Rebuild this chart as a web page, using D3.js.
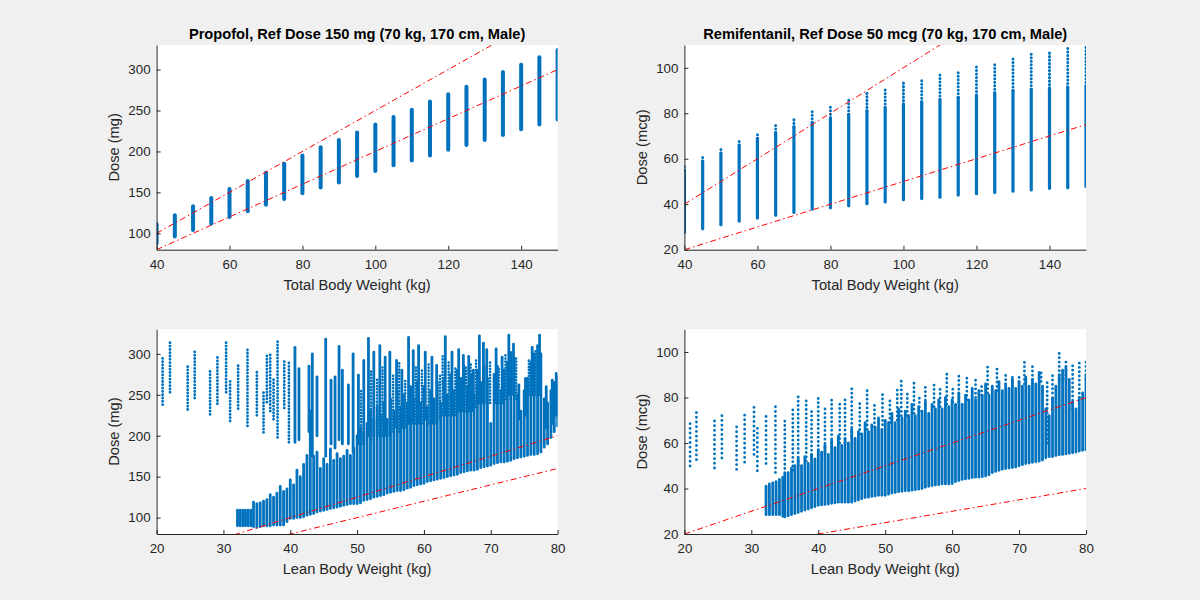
<!DOCTYPE html>
<html>
<head>
<meta charset="utf-8">
<script src="https://cdn.jsdelivr.net/npm/d3@7"></script>
<style>
  html, body { margin: 0; padding: 0; background: #f0f0f0; }
  svg { display: block; }
</style>
</head>
<body>
<svg id="chart" width="1200" height="600"></svg>
<script>
// ---------------- DATA ----------------
// Top row: total body weight grid and dose range at each weight
const tbw = [40,45,50,55,60,65,70,75,80,85,90,95,100,105,110,115,120,125,130,135,140,145,150];
const propTbwMin = [88,96,104,112,120,127,135,142,149,156,162,170,176,183,189,195,202,208,214,220,227,233,239];
const propTbwMax = [111,122,133,143,154,164,174,185,195,205,214,223,233,242,251,261,270,279,288,297,306,315,324];
const remiTbwMin = [27.6,29.2,31,32.6,33.9,35.2,36.4,37.8,38.4,39.3,40.2,41,42,42.5,43.1,44,44.6,45.2,45.7,46.3,47,47.2,47.8];
const remiTbwSolidMax = [55,59,62.5,66,69,71.5,74,76,78,79.5,81,82.5,84,85,86,87,88,89,90,90.5,91,91.5,92];
const remiTbwMax = [56.6,61,64.9,68.6,71.9,75,78,81.1,83.6,86.3,89,91,93.3,95.2,97.2,99.1,101,102.8,104.2,106,107.5,109,110.4];

// Reference dose lines: [x, dose] end points
const propTbwRefHigh = [[40,100],[150,375]];
const propTbwRefLow  = [[40,80],[150,300]];
const remiTbwRefHigh = [[40,40],[150,150]];
const remiTbwRefLow  = [[40,20],[150,75]];
const propLbwRefHigh = [[20,50],[80,200]];
const propLbwRefLow  = [[20,40],[80,160]];
const remiLbwRefHigh = [[20,20],[80,80]];
const remiLbwRefLow  = [[20,10],[80,40]];

// Bottom-left (Propofol vs LBW) columns: [lbw, lowDose, highDose]
const propLbwSparse = [
  [20.9,238,296],[22.0,253,314],[24.65,232,287],[25.7,246,305],[28.0,226,279],[29.1,239,297],
  [30.4,253,315],[31.0,218,270],[32.2,233,289],[33.6,212,306],[35.0,225,280],[36.0,204,253],
  [36.5,241,298],[37.0,230,300],[37.5,220,272],[38.1,198,316],[39.1,234,292],[39.8,192,290]
];
const propLbwBand = [
  [32.1,90,109],[32.5,90,109],[32.9,90,109],[33.3,90,109],[33.7,90,109],[34.1,90,109],
  [34.5,89,119],[35,88,117],[35.5,89,118],[36,90,120],[36.5,90,122],[37,90,128],[37.5,91,125],
  [38,91,130],[38.5,91,138],[39,91,132],[39.5,95,135],[40,99,146],[40.5,99,140],[41,100,158],
  [41.5,100,150],[42,101,165],[42.5,103,176],[43,104,230],[43.5,105,175],[44,107,180],[44.5,108,160],
  [45,109,172],[45.5,110,165],[46,111,184],[46.5,112,170],[47,113,178],[47.5,114,172],[48,115,175],
  [48.5,116,182],[49,117,176],[49.5,117,185],[50,117,200],[50.5,118,210],[51,121,205],[51.5,122,215],
  [52,123,230],[52.5,125,220],[53,126,235],[53.5,127,225],[54,128,240],[54.5,130,220],[55,131,245],
  [55.5,132,230],[56,133,255],[56.5,133,235],[57,134,250],[57.5,136,240],[58,137,260],[58.5,139,245],
  [59,140,265],[59.5,141,240],[60,142,260],[60.5,144,235],[61,145,255],[61.5,146,245],[62,147,265],
  [62.5,148,240],[63,149,270],[63.5,150,250],[64,151,275],[64.5,152,255],[65,153,280],[65.5,155,270],
  [66,156,285],[66.5,157,260],[67,158,275],[67.5,158,250],[68,159,280],[68.5,161,265],[69,162,285],
  [69.5,163,270],[70,164,215],[70.5,166,275],[71,167,285],[71.5,168,255],[72,168,280],[72.5,169,290],
  [73,170,300],[73.5,172,295],[74,173,250],[74.5,174,230],[75,175,255],[75.5,176,270],[76,177,290],
  [76.5,177,300],[77,178,310],[77.5,180,300],[78,186,245],[78.5,190,240],[79,198,255],[79.5,205,265],
  [80,212,272]
];
const propLbwSpikes = [
  [40.7,192,308],[41.3,195,282],[42.8,205,285],[43.3,175,300],[44.0,200,272],[45.3,175,318],
  [46.1,190,268],[46.7,185,272],[47.3,195,309],[47.8,190,280],[48.7,190,262],[49.4,180,300],
  [50.2,190,274],[51.0,190,292],[51.7,200,319],[52.5,200,302],[53.4,200,310],[54.2,200,296],
  [54.9,200,302],[55.9,210,292],[56.7,210,280],[57.7,215,320],[58.4,215,304],[59.2,215,310],
  [60.2,220,302],[61.2,215,296],[61.9,215,286],[63.2,225,321],[64.2,225,302],[65.2,230,305],
  [65.9,230,298],[66.7,230,297],[67.4,230,280],[68.3,240,322],[68.9,240,313],[69.4,240,305],
  [70.8,240,306],[71.7,240,296],[72.7,250,323],[73.4,250,312],[74.2,220,262],[75.2,225,270],
  [76.2,250,308],[77.3,250,323],[78.3,210,260],[79.2,215,268],[79.8,225,276]
];
const propLbwSpikesMid = [
  [50.6,190,255],[52.1,195,280],[53.0,200,270],[53.8,200,285],[55.4,205,275],[56.3,205,290],
  [57.2,210,270],[58.8,215,285],[59.7,215,280],[60.7,215,290],[62.4,220,275],[62.8,225,300],
  [63.7,225,290],[64.7,225,285],[66.3,230,285],[67.0,230,290],[67.8,235,295],[69.9,240,290],
  [71.2,240,285],[72.2,245,300],[73.0,245,305],[73.8,245,295],[75.7,250,295],[76.7,250,305]
];

// Bottom-right (Remifentanil vs LBW) columns: [lbw, lowDose, highDose]
const remiLbwSparse = [
  [20.85,49.9,70.4],[21.8,52.7,74.7],[24.5,49,69.7],[25.6,53.4,73.6],[27.8,48.4,68.8],
  [29.0,51.6,72.6],[30.4,55,76.8],[30.9,47.8,67.8],[32.2,51,71.9],[33.6,47,76.1]
];
const remiLbwBand = [
  [32.2,28.5,41],[32.7,28.5,42],[33.2,28.5,42.5],[33.7,28.5,43],[34.2,28.5,44],[34.7,27.8,45],
  [35,27.5,46.5],[35.5,28,47],[36,28.5,49],[36.5,29,50],[37,29.5,53],[37.5,30,50],[38,30.5,54],
  [38.5,31,51],[39,31.5,55],[39.5,32,53],[40,32.6,57],[40.5,32.8,56],[41,33,59],[41.5,33.2,55],
  [42,33.5,61],[42.5,33.7,58],[43,34,63],[43.5,34,59],[44,34,62],[44.5,34,60],[45,34,66],
  [45.5,34.5,62],[46,35,65],[46.5,35.5,64],[47,36,69],[47.5,36.2,65],[48,36.5,68],[48.5,36.7,67],
  [49,37,71],[49.5,37,66],[50,37,70],[50.5,37.5,69],[51,38,73],[51.5,38.3,69],[52,38.6,75],
  [52.5,38.8,71],[53,39,74],[53.5,39,72],[54,39.2,77],[54.5,39.5,72],[55,39.7,76],[55.5,40,74],
  [56,40.5,78],[56.5,41,73],[57,41.3,77],[57.5,41.5,75],[58,41.7,79],[58.5,42,75],[59,42,80],
  [59.5,42,76],[60,42.2,79],[60.5,43,77],[61,43.5,82],[61.5,44,77],[62,44.2,81],[62.5,44.5,79],
  [63,44.8,84],[63.5,45,79],[64,45,83],[64.5,45.2,81],[65,45.5,86],[65.5,46,81],[66,47,85],
  [66.5,47.5,83],[67,48,87],[67.5,48.5,83],[68,48.8,86],[68.5,49,84],[69,49.2,88],[69.5,49.5,84],
  [70,50,87],[70.5,50.5,85],[71,51,89],[71.5,51.2,85],[72,51.5,88],[72.5,51.8,86],[73,52,91],
  [73.5,52.5,85],[74,53.5,75],[74.5,54,72],[75,54,80],[75.5,54.5,85],[76,54.8,90],[76.5,55,92],
  [77,55.2,93],[77.5,55.5,88],[78,55.7,78],[78.5,56,75],[79,56.5,80],[79.5,56.8,82],[80,57,90]
];
const remiLbwSpikes = [
  [35.0,45,71.4],[36.2,48,75],[37.0,50,81.7],[38.2,52,79.5],[39.0,53,74],[40.0,55,81],[41.0,56,76],
  [42.0,58,78.8],[43.2,60,77.6],[44.0,60,80],[45.0,63,85],[46.2,64,79],[47.3,66,84],[48.4,67,78],
  [49.6,68,83],[50.7,69,80],[51.8,70,84.6],[52.4,72,87.8],[53.3,72,82],[54.3,73,86.8],[55.1,74,81],
  [56.0,75,86],[57.3,76,86.8],[58.2,76,84],[59.2,77,90.9],[60.1,78,85],[61.0,78,90],[62.2,79,89],
  [63.5,80,88.6],[64.4,81,86],[65.3,82,93.8],[66.7,83,92.7],[68.0,84,91],[69.0,85,89],[70.0,85,89.7],
  [70.8,86,96.6],[72.0,86,94.9],[73.3,87,92],[74.2,60,88],[75.0,82,90.5],[76.0,88,99.7],[77.0,88,95.6],
  [78.0,75,94],[79.0,80,95.6],[80.0,88,97.4]
];

// Axis ticks and text
const tbwTicks = [40,60,80,100,120,140];
const lbwTicks = [20,30,40,50,60,70,80];
const propTicks = [100,150,200,250,300];
const remiTicks = [20,40,60,80,100];
const titles = ["Propofol, Ref Dose 150 mg (70 kg, 170 cm, Male)", "Remifentanil, Ref Dose 50 mcg (70 kg, 170 cm, Male)"];
const xLabels = ["Total Body Weight (kg)", "Lean Body Weight (kg)"];
const yLabels = ["Dose (mg)", "Dose (mcg)"];

// ---------------- DRAWING ----------------
const svg = d3.select("#chart");
const FONT = "'Liberation Sans', Arial, Helvetica, sans-serif";
const BLUE = "#0072BD";
const AXC = "#262626";

const colsLeft = [156.6, 557.6], colsRight = [684.4, 1086];
const rowTop = [45, 249.7], rowBottom = [329.3, 534];

function panel(cfg, idx) {
  const [x0, x1] = cfg.cols, [y0, y1] = cfg.rows;
  const x = d3.scaleLinear().domain(cfg.xDomain).range([x0, x1]);
  const y = d3.scaleLinear().domain(cfg.yDomain).range([y1, y0]);
  const g = svg.append("g");
  g.append("rect").attr("x", x0).attr("y", y0).attr("width", x1 - x0).attr("height", y1 - y0).attr("fill", "#fff");
  const cid = "clip" + idx;
  svg.append("clipPath").attr("id", cid).append("rect")
    .attr("x", x0).attr("y", y0).attr("width", x1 - x0).attr("height", y1 - y0);
  const marks = g.append("g").attr("clip-path", `url(#${cid})`);
  cfg.sets.forEach(s => {
    marks.append("g").selectAll("line").data(s.data).join("line")
      .attr("x1", d => x(d[0])).attr("x2", d => x(d[0]))
      .attr("y1", d => y(d[1])).attr("y2", d => y(d[2]))
      .attr("stroke", BLUE).attr("stroke-width", s.w)
      .attr("stroke-linecap", s.cap || "round")
      .attr("stroke-dasharray", s.dash || null);
  });
  const line = d3.line().x(d => x(d[0])).y(d => y(d[1]));
  cfg.refs.forEach(r => {
    marks.append("path").attr("d", line(r)).attr("fill", "none")
      .attr("stroke", "#ff0000").attr("stroke-width", 1)
      .attr("stroke-dasharray", "6,3,1.5,3");
  });
  // axes
  const xa = g.append("g").attr("transform", `translate(0,${y1})`)
    .call(d3.axisBottom(x).tickValues(cfg.xTicks).tickSizeInner(-4).tickSizeOuter(0).tickPadding(9.5));
  const ya = g.append("g").attr("transform", `translate(${x0},0)`)
    .call(d3.axisLeft(y).tickValues(cfg.yTicks).tickSizeInner(-4).tickSizeOuter(0).tickPadding(6));
  [xa, ya].forEach(a => {
    a.attr("font-family", FONT).attr("font-size", 13.33);
    a.selectAll("path.domain").attr("stroke", AXC).attr("stroke-width", 1);
    a.selectAll(".tick line").attr("stroke", AXC).attr("stroke-width", 1);
    a.selectAll(".tick text").attr("fill", AXC);
  });
  g.append("text").attr("x", (x0 + x1) / 2).attr("y", y1 + 40)
    .attr("text-anchor", "middle").attr("font-family", FONT).attr("font-size", 14.67)
    .attr("fill", AXC).text(cfg.xLabel);
  g.append("text").attr("transform", `translate(${x0 - 37.5},${(y0 + y1) / 2}) rotate(-90)`)
    .attr("text-anchor", "middle").attr("font-family", FONT).attr("font-size", 14.67)
    .attr("fill", AXC).text(cfg.yLabel);
  if (cfg.title) {
    g.append("text").attr("x", (x0 + x1) / 2).attr("y", y0 - 6)
      .attr("text-anchor", "middle").attr("font-family", FONT).attr("font-size", 14.67)
      .attr("font-weight", "bold").attr("fill", "#000").text(cfg.title);
  }
}

const propTbwCols = tbw.map((w, i) => [w, propTbwMin[i], propTbwMax[i]]);
const remiTbwSolid = tbw.map((w, i) => [w, remiTbwMin[i], remiTbwSolidMax[i]]);
const remiTbwTips = tbw.map((w, i) => [w, remiTbwSolidMax[i], remiTbwMax[i]]);

const panels = [
  { cols: colsLeft, rows: rowTop, xDomain: [40,150], yDomain: [80,330], xTicks: tbwTicks, yTicks: propTicks,
    sets: [{data: propTbwCols, w: 4}], refs: [propTbwRefHigh, propTbwRefLow],
    title: titles[0], xLabel: xLabels[0], yLabel: yLabels[0] },
  { cols: colsRight, rows: rowTop, xDomain: [40,150], yDomain: [20,110], xTicks: tbwTicks, yTicks: remiTicks,
    sets: [{data: remiTbwSolid, w: 3.2}, {data: remiTbwTips, w: 3, dash: "0.1,3.4"}],
    refs: [remiTbwRefHigh, remiTbwRefLow],
    title: titles[1], xLabel: xLabels[0], yLabel: yLabels[1] },
  { cols: colsLeft, rows: rowBottom, xDomain: [20,80], yDomain: [80,330], xTicks: lbwTicks, yTicks: propTicks,
    sets: [{data: propLbwSparse, w: 2.8, dash: "0.1,3.2"},
           {data: propLbwBand, w: 2.8},
           {data: propLbwSpikes, w: 2.8},
           {data: propLbwSpikesMid, w: 2.6, dash: "0.1,3"}],
    refs: [propLbwRefHigh, propLbwRefLow], xLabel: xLabels[1], yLabel: yLabels[0] },
  { cols: colsRight, rows: rowBottom, xDomain: [20,80], yDomain: [20,110], xTicks: lbwTicks, yTicks: remiTicks,
    sets: [{data: remiLbwSparse, w: 2.8, dash: "0.1,4.6"},
           {data: remiLbwBand, w: 2.8},
           {data: remiLbwSpikes, w: 2.8, dash: "0.1,4.2"}],
    refs: [remiLbwRefHigh, remiLbwRefLow], xLabel: xLabels[1], yLabel: yLabels[1] }
];
panels.forEach(panel);
</script>
</body>
</html>
